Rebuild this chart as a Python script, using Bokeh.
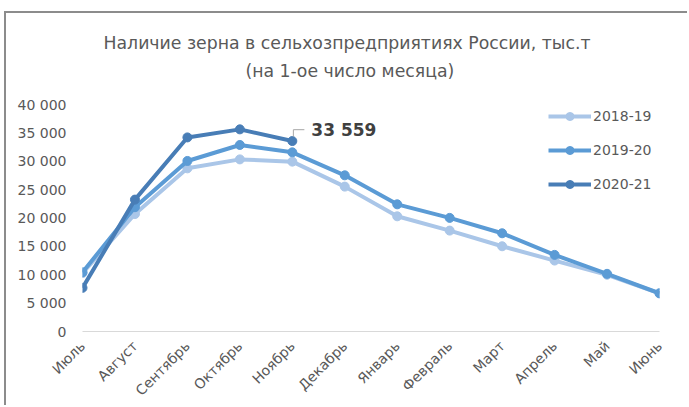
import math
from bokeh.plotting import figure
from bokeh.models import Range1d, FixedTicker, Legend, LegendItem, Title
from bokeh.core.properties import value
from bokeh.embed import file_html
from bokeh.resources import INLINE

months = ["Июль", "Август", "Сентябрь", "Октябрь", "Ноябрь", "Декабрь",
          "Январь", "Февраль", "Март", "Апрель", "Май", "Июнь"]
s2018_19 = [10300, 20700, 28750, 30330, 29930, 25530, 20300, 17780, 15020, 12500, 10000, 6700]
s2019_20 = [10440, 21900, 30050, 32870, 31570, 27520, 22410, 20020, 17310, 13500, 10160, 6740]
s2020_21 = [7690, 23240, 34200, 35620, 33559]
series_names = ["2018-19", "2019-20", "2020-21"]
y_ticks = [0, 5000, 10000, 15000, 20000, 25000, 30000, 35000, 40000]
title_line1 = "Наличие зерна в сельхозпредприятиях России, тыс.т"
title_line2 = "(на 1-ое число месяца)"

colors = ["#AAC6E8", "#5B9BD5", "#487DB6"]
FONT = "DejaVu Sans"
GRAY = "#595959"

x_idx = list(range(len(months)))

p = figure(width=683, height=394, output_backend="svg", toolbar_location=None,
           x_range=Range1d(0, len(months) - 1), y_range=Range1d(y_ticks[0], y_ticks[-1]),
           min_border_left=76, min_border_right=30, min_border_top=91, min_border_bottom=74)
p.styles = {"margin-left": "4px", "margin-top": "11px",
            "border-top": "2px solid #8C8C8C", "border-left": "2px solid #8C8C8C"}
p.outline_line_color = None
p.xgrid.grid_line_color = None
p.ygrid.grid_line_color = None

p.xaxis.ticker = FixedTicker(ticks=x_idx)
p.xaxis.major_label_overrides = {i: m for i, m in enumerate(months)}
p.xaxis.major_label_orientation = math.pi / 4
p.xaxis.axis_line_color = "#D9D9D9"
p.xaxis.major_tick_line_color = None
p.xaxis.minor_tick_line_color = None
p.xaxis.major_label_text_font = FONT
p.xaxis.major_label_text_font_size = "14px"
p.xaxis.major_label_text_color = GRAY
p.xaxis.major_label_standoff = 6

p.yaxis.ticker = FixedTicker(ticks=y_ticks)
p.yaxis.major_label_overrides = {v: f"{v:,}".replace(",", " ") for v in y_ticks}
p.yaxis.axis_line_color = None
p.yaxis.major_tick_line_color = None
p.yaxis.minor_tick_line_color = None
p.yaxis.major_label_text_font = FONT
p.yaxis.major_label_text_font_size = "14px"
p.yaxis.major_label_text_color = GRAY
p.yaxis.major_label_standoff = 10

items = []
for name, data, col in zip(series_names, [s2018_19, s2019_20, s2020_21], colors):
    xs = x_idx[:len(data)]
    r1 = p.line(xs, data, line_color=col, line_width=4, line_join="round")
    r2 = p.scatter(xs, data, size=9, fill_color=col, line_color=col)
    items.append(LegendItem(label=name, renderers=[r1, r2]))

# data label for last value of 2020-21
lx = len(s2020_21) - 1
ly = s2020_21[-1]
p.line([lx + 0.02, lx + 0.02, lx + 0.23], [ly + 770, ly + 2000, ly + 2000],
       line_color="#A6A6A6", line_width=1)
p.text(x=[lx], y=[ly], text=[f"{ly:,}".replace(",", " ")], x_offset=19, y_offset=-11,
       text_font=value(FONT), text_font_size="17px", text_font_style="bold",
       text_color="#404040", text_baseline="middle", text_align="left")

legend = Legend(items=items, location=(466, 137), orientation="vertical",
                glyph_width=43, glyph_height=20, label_height=20, spacing=14,
                label_standoff=2, padding=0, margin=0,
                border_line_color=None, background_fill_alpha=0,
                label_text_font=FONT, label_text_font_size="14px", label_text_color=GRAY)
p.add_layout(legend, "center")

p.add_layout(Title(text=title_line2, align="left", offset=163, standoff=47,
                   text_font=FONT, text_font_size="17.3px", text_font_style="normal",
                   text_color=GRAY), "above")
p.add_layout(Title(text=title_line1, align="left", offset=21, standoff=-35,
                   text_font=FONT, text_font_size="17.3px", text_font_style="normal",
                   text_color=GRAY), "above")

open("out.html", "w").write(file_html(p, INLINE))
